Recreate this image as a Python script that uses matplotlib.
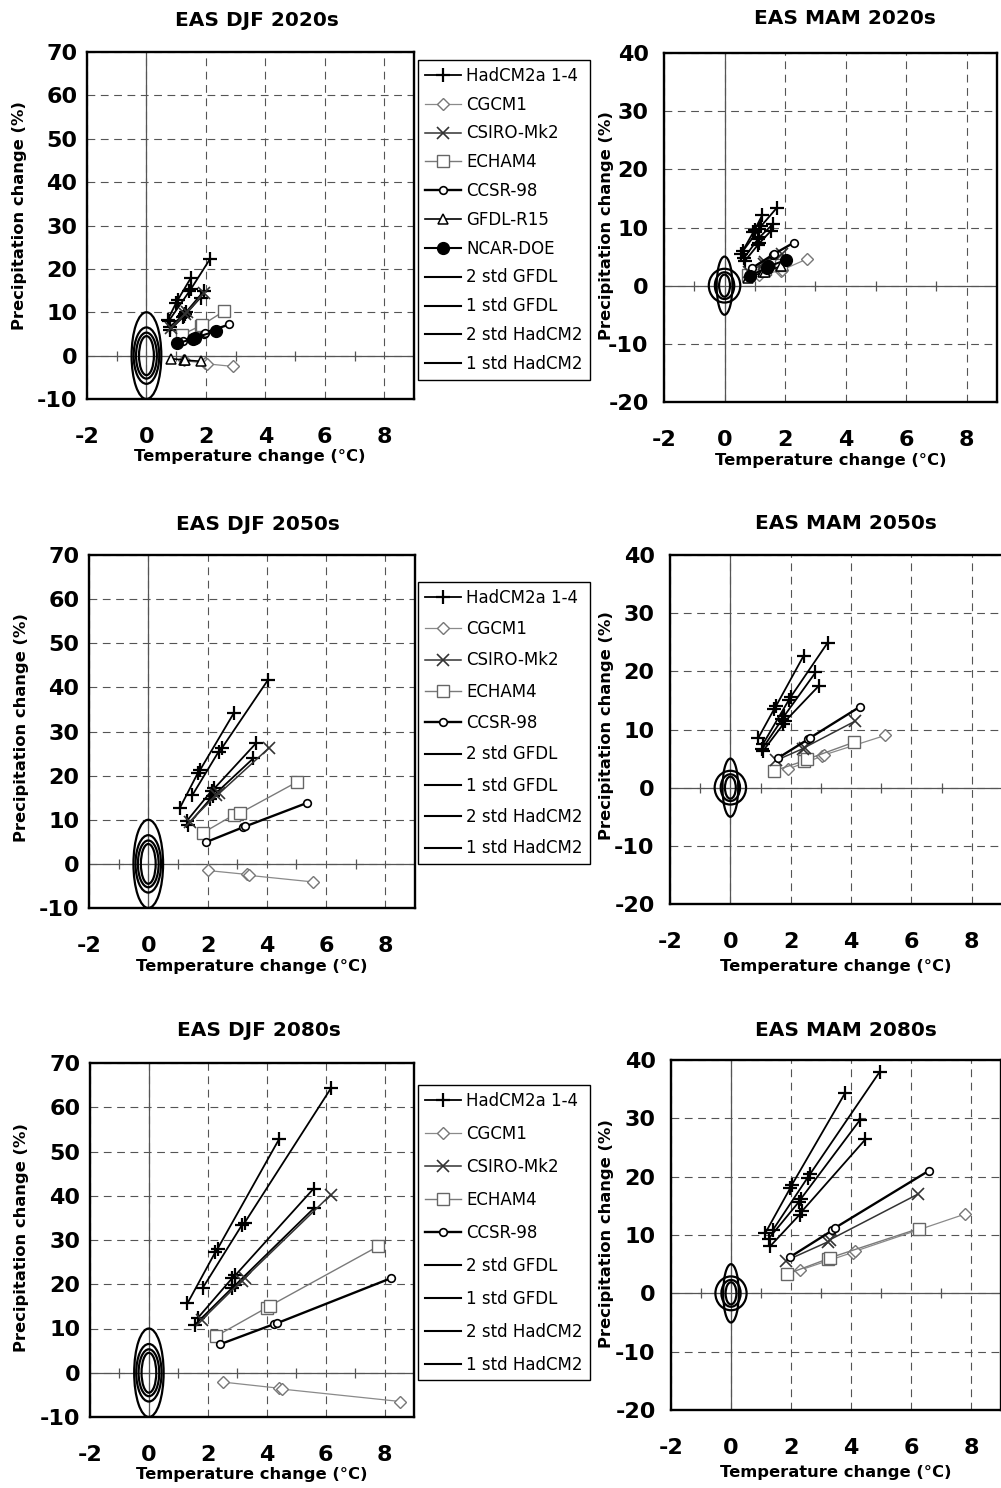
import matplotlib
matplotlib.use("Agg")
import matplotlib.pyplot as plt
from matplotlib.patches import Ellipse
from matplotlib.lines import Line2D

# ---------------- data ----------------
T_TICKS = [-2, 0, 2, 4, 6, 8]
T_TICK_LABELS = ["-2", "0", "2", "4", "6", "8"]
T_MINOR = [-1, 1, 3, 5, 7]
DJF_P_TICKS = [-10, 0, 10, 20, 30, 40, 50, 60, 70]
MAM_P_TICKS = [-20, -10, 0, 10, 20, 30, 40]

# natural-variability ellipses: half-width (degC), half-height (%)
ELL_NAMES = ["2 std GFDL", "1 std GFDL", "2 std HadCM2", "1 std HadCM2"]
DJF_ELL_T = [0.50, 0.35, 0.43, 0.25]
DJF_ELL_P = [10.0, 5.3, 6.5, 4.5]
MAM_ELL_T = [0.26, 0.18, 0.52, 0.32]
MAM_ELL_P = [5.0, 1.9, 2.9, 2.3]

# ---- EAS DJF 2020s ----
djf20_hadcm2_t = [[0.72, 1.00, 1.05, 1.50], [0.75, 1.44, 1.50, 2.14],
                  [0.78, 1.28, 1.33, 1.92], [0.80, 1.22, 1.27, 1.82]]
djf20_hadcm2_p = [[8.3, 12.2, 12.8, 18.0], [8.0, 14.8, 15.4, 22.3],
                  [6.6, 9.6, 10.0, 14.8], [6.0, 8.8, 9.2, 13.4]]
djf20_cgcm1_t = [1.25, 1.98, 2.05, 2.92]
djf20_cgcm1_p = [-1.1, -1.8, -1.9, -2.5]
djf20_csiro_t = [0.82, 1.30, 1.36, 1.95]
djf20_csiro_p = [6.3, 9.6, 10.0, 14.5]
djf20_echam4_t = [1.18, 1.83, 1.88, 2.60]
djf20_echam4_p = [4.8, 6.9, 7.1, 10.2]
djf20_ccsr_t = [1.23, 1.92, 1.97, 2.79]
djf20_ccsr_p = [3.4, 5.1, 5.3, 7.2]
djf20_gfdl_t = [0.83, 1.25, 1.30, 1.83]
djf20_gfdl_p = [-0.7, -1.0, -1.05, -1.3]
djf20_ncar_t = [1.02, 1.58, 1.63, 2.35]
djf20_ncar_p = [2.8, 3.9, 4.1, 5.7]

# ---- EAS MAM 2020s ----
mam20_hadcm2_t = [[0.55, 0.95, 1.00, 1.25], [0.60, 1.15, 1.20, 1.73],
                  [0.65, 1.10, 1.15, 1.60], [0.68, 1.10, 1.15, 1.53]]
mam20_hadcm2_p = [[5.5, 9.2, 9.6, 12.2], [5.9, 9.8, 10.2, 13.4],
                  [4.8, 8.0, 8.3, 10.6], [4.3, 7.0, 7.3, 9.4]]
mam20_cgcm1_t = [1.15, 1.85, 1.90, 2.73]
mam20_cgcm1_p = [1.8, 2.6, 2.7, 4.6]
mam20_csiro_t = [0.80, 1.30, 1.35, 1.90]
mam20_csiro_p = [2.4, 3.8, 4.0, 5.4]
mam20_echam4_t = [0.78, 1.30, 1.35, 1.85]
mam20_echam4_p = [1.8, 2.8, 2.9, 3.6]
mam20_ccsr_t = [0.90, 1.59, 1.65, 2.29]
mam20_ccsr_p = [3.0, 5.3, 5.5, 7.4]
mam20_gfdl_t = [0.78, 1.28, 1.33, 1.85]
mam20_gfdl_p = [1.4, 2.3, 2.4, 3.3]
mam20_ncar_t = [0.85, 1.40, 1.45, 2.02]
mam20_ncar_p = [1.7, 3.1, 3.3, 4.4]

# ---- EAS DJF 2050s ----
djf50_hadcm2_t = [[1.06, 1.68, 1.75, 2.88], [1.49, 2.37, 2.48, 4.03],
                  [1.31, 2.14, 2.23, 3.63], [1.34, 2.09, 2.17, 3.54]]
djf50_hadcm2_p = [[12.6, 20.7, 21.3, 34.1], [15.6, 25.4, 26.2, 41.6],
                  [9.8, 16.6, 17.1, 27.3], [8.9, 14.7, 15.3, 23.9]]
djf50_cgcm1_t = [2.00, 3.34, 3.39, 5.57]
djf50_cgcm1_p = [-1.5, -2.4, -2.6, -4.1]
djf50_csiro_t = [1.41, 2.29, 2.40, 4.06]
djf50_csiro_p = [9.6, 15.6, 16.0, 26.2]
djf50_echam4_t = [1.86, 2.89, 3.09, 5.03]
djf50_echam4_p = [7.1, 11.1, 11.5, 18.6]
djf50_ccsr_t = [1.94, 3.20, 3.28, 5.35]
djf50_ccsr_p = [4.9, 8.3, 8.5, 13.8]

# ---- EAS MAM 2050s ----
mam50_hadcm2_t = [[0.92, 1.46, 1.52, 2.43], [1.08, 1.94, 2.00, 3.22],
                  [1.06, 1.72, 1.78, 2.82], [1.08, 1.75, 1.81, 2.93]]
mam50_hadcm2_p = [[8.5, 13.6, 14.1, 22.7], [7.5, 15.1, 15.6, 24.9],
                  [6.7, 11.8, 12.3, 19.8], [6.3, 10.9, 11.4, 17.5]]
mam50_cgcm1_t = [1.91, 3.03, 3.09, 5.14]
mam50_cgcm1_p = [3.2, 5.4, 5.6, 9.0]
mam50_csiro_t = [1.52, 2.40, 2.46, 4.12]
mam50_csiro_p = [4.7, 6.7, 6.9, 11.4]
mam50_echam4_t = [1.45, 2.44, 2.55, 4.09]
mam50_echam4_p = [2.9, 4.6, 4.9, 7.8]
mam50_ccsr_t = [1.58, 2.57, 2.65, 4.29]
mam50_ccsr_p = [5.1, 8.3, 8.6, 13.9]

# ---- EAS DJF 2080s ----
djf80_hadcm2_t = [[1.31, 2.25, 2.33, 4.42], [1.83, 3.15, 3.25, 6.19],
                  [1.65, 2.83, 2.93, 5.59], [1.57, 2.83, 2.93, 5.62]]
djf80_hadcm2_p = [[15.7, 27.2, 28.0, 52.8], [19.2, 33.3, 33.9, 64.4],
                  [12.3, 21.4, 22.0, 41.6], [10.9, 19.2, 19.8, 37.3]]
djf80_cgcm1_t = [2.50, 4.43, 4.53, 8.54]
djf80_cgcm1_p = [-2.1, -3.5, -3.7, -6.5]
djf80_csiro_t = [1.79, 3.15, 3.25, 6.17]
djf80_csiro_p = [11.9, 20.8, 21.4, 40.2]
djf80_echam4_t = [2.29, 4.00, 4.10, 7.79]
djf80_echam4_p = [8.3, 14.7, 15.1, 28.6]
djf80_ccsr_t = [2.40, 4.25, 4.35, 8.23]
djf80_ccsr_p = [6.4, 11.0, 11.2, 21.4]

# ---- EAS MAM 2080s ----
mam80_hadcm2_t = [[1.14, 1.97, 2.03, 3.81], [1.40, 2.55, 2.63, 4.96],
                  [1.26, 2.25, 2.33, 4.31], [1.31, 2.29, 2.37, 4.48]]
mam80_hadcm2_p = [[10.3, 18.0, 18.6, 34.4], [10.9, 19.8, 20.4, 38.0],
                  [9.4, 15.6, 16.2, 29.8], [8.1, 13.5, 14.1, 26.4]]
mam80_cgcm1_t = [2.31, 4.05, 4.13, 7.81]
mam80_cgcm1_p = [4.0, 7.0, 7.2, 13.6]
mam80_csiro_t = [1.83, 3.22, 3.30, 6.23]
mam80_csiro_p = [5.6, 8.8, 9.2, 17.0]
mam80_echam4_t = [1.87, 3.22, 3.30, 6.26]
mam80_echam4_p = [3.3, 5.9, 6.1, 11.1]
mam80_ccsr_t = [1.96, 3.38, 3.46, 6.59]
mam80_ccsr_p = [6.2, 10.8, 11.2, 21.0]

# ---------------- styles ----------------
STYLE = {
    "HadCM2a 1-4": dict(color="black", lw=1.3, marker="+", ms=10, mew=1.6, mfc="black", mec="black"),
    "CGCM1": dict(color="#8a8a8a", lw=0.9, marker="D", ms=6, mew=1.0, mfc="white", mec="#777777"),
    "CSIRO-Mk2": dict(color="#333333", lw=1.1, marker="x", ms=8, mew=1.2, mfc="#333333", mec="#333333"),
    "ECHAM4": dict(color="#7a7a7a", lw=1.0, marker="s", ms=8, mew=1.0, mfc="white", mec="#666666"),
    "CCSR-98": dict(color="black", lw=1.7, marker="o", ms=5.5, mew=1.2, mfc="white", mec="black"),
    "GFDL-R15": dict(color="black", lw=1.2, marker="^", ms=7, mew=1.1, mfc="white", mec="black"),
    "NCAR-DOE": dict(color="black", lw=1.5, marker="o", ms=8.5, mew=1.0, mfc="black", mec="black"),
}
ELL_STYLE = dict(color="black", lw=1.5)

W, H = 1001, 1488
fig = plt.figure(figsize=(W / 100, H / 100), dpi=100)
plt.rcParams["font.family"] = ["DejaVu Sans"]
plt.rcParams["axes.unicode_minus"] = False


def fx(px):
    return px / W


def fy(py):
    return 1 - py / H


def make_ax(l, t, r, b):
    return fig.add_axes([l / W, 1 - b / H, (r - l) / W, (b - t) / H])


def draw(ax, models, ylim, yticks, ell_t, ell_p, ypad):
    ax.set_xlim(-2, 9)
    ax.set_ylim(*ylim)
    ax.set_xticks(T_TICKS)
    ax.set_xticklabels(T_TICK_LABELS)
    ax.set_yticks(yticks)
    ax.set_yticklabels([str(v) for v in yticks])
    ax.tick_params(length=0, labelsize=16)
    ax.tick_params(axis="x", pad=20)
    ax.tick_params(axis="y", pad=ypad)
    for lab in ax.get_xticklabels() + ax.get_yticklabels():
        lab.set_fontweight("bold")
    ax.grid(True, color="#555555", lw=0.8, ls=(0, (7, 5)))
    ax.axhline(0, color="#555555", lw=0.9, zorder=1.5)
    ax.axvline(0, color="#555555", lw=0.9, zorder=1.5)
    ax.plot(T_MINOR, [0] * len(T_MINOR), ls="none", marker="|", ms=7, mew=0.9,
            color="#555555", zorder=1.5)
    for w, h in zip(ell_t, ell_p):
        ax.add_patch(Ellipse((0, 0), 2 * w, 2 * h, fill=False, ec="black", lw=1.6, zorder=2))
    for name, t, p in models:
        st = STYLE[name]
        if isinstance(t[0], list):
            for tt, pp in zip(t, p):
                ax.plot(tt, pp, zorder=3, **st)
        else:
            ax.plot(t, p, zorder=3, **st)
    for s in ax.spines.values():
        s.set_linewidth(1.7)
        s.set_color("black")


def legend(names, left, top, spacing):
    handles = [Line2D([], [], **STYLE[n]) for n in names]
    handles += [Line2D([], [], **ELL_STYLE) for _ in ELL_NAMES]
    labels = list(names) + ELL_NAMES
    lg = fig.legend(handles, labels, loc="upper left",
                    bbox_to_anchor=(fx(left), fy(top)), bbox_transform=fig.transFigure,
                    fontsize=12, frameon=True, fancybox=False, edgecolor="black",
                    framealpha=1, borderaxespad=0, borderpad=0.4,
                    handlelength=2.2, handletextpad=0.3, labelspacing=spacing,
                    numpoints=1)
    lg.get_frame().set_linewidth(1.0)


def texts(title, tx, ty, xlx, xly, ylx, yly):
    fig.text(fx(tx), fy(ty), title, ha="center", va="center", fontsize=14.5, fontweight="bold")
    fig.text(fx(xlx), fy(xly), "Temperature change (°C)", ha="center", va="center",
             fontsize=11.8, fontweight="bold")
    fig.text(fx(ylx), fy(yly), "Precipitation change (%)", ha="center", va="center",
             fontsize=11.8, fontweight="bold", rotation=90)


# ---- panel DJF 2020s ----
ax = make_ax(87, 52, 414, 399)
draw(ax, [("HadCM2a 1-4", djf20_hadcm2_t, djf20_hadcm2_p),
          ("CGCM1", djf20_cgcm1_t, djf20_cgcm1_p),
          ("ECHAM4", djf20_echam4_t, djf20_echam4_p),
          ("GFDL-R15", djf20_gfdl_t, djf20_gfdl_p),
          ("CSIRO-Mk2", djf20_csiro_t, djf20_csiro_p),
          ("CCSR-98", djf20_ccsr_t, djf20_ccsr_p),
          ("NCAR-DOE", djf20_ncar_t, djf20_ncar_p)],
     (-10, 70), DJF_P_TICKS, DJF_ELL_T, DJF_ELL_P, 7)
legend(["HadCM2a 1-4", "CGCM1", "CSIRO-Mk2", "ECHAM4", "CCSR-98", "GFDL-R15", "NCAR-DOE"],
       418, 60, 0.65)
texts("EAS DJF 2020s", 257, 20, 250, 456, 20, 216)

# ---- panel MAM 2020s ----
ax = make_ax(664, 53, 997, 402)
draw(ax, [("HadCM2a 1-4", mam20_hadcm2_t, mam20_hadcm2_p),
          ("CGCM1", mam20_cgcm1_t, mam20_cgcm1_p),
          ("ECHAM4", mam20_echam4_t, mam20_echam4_p),
          ("GFDL-R15", mam20_gfdl_t, mam20_gfdl_p),
          ("CSIRO-Mk2", mam20_csiro_t, mam20_csiro_p),
          ("CCSR-98", mam20_ccsr_t, mam20_ccsr_p),
          ("NCAR-DOE", mam20_ncar_t, mam20_ncar_p)],
     (-20, 40), MAM_P_TICKS, MAM_ELL_T, MAM_ELL_P, 11)
texts("EAS MAM 2020s", 845, 18, 831, 460, 607, 226)

# ---- panel DJF 2050s ----
ax = make_ax(89, 555, 415, 908)
draw(ax, [("HadCM2a 1-4", djf50_hadcm2_t, djf50_hadcm2_p),
          ("CGCM1", djf50_cgcm1_t, djf50_cgcm1_p),
          ("ECHAM4", djf50_echam4_t, djf50_echam4_p),
          ("CSIRO-Mk2", djf50_csiro_t, djf50_csiro_p),
          ("CCSR-98", djf50_ccsr_t, djf50_ccsr_p)],
     (-10, 70), DJF_P_TICKS, DJF_ELL_T, DJF_ELL_P, 7)
legend(["HadCM2a 1-4", "CGCM1", "CSIRO-Mk2", "ECHAM4", "CCSR-98"], 418, 582, 0.80)
texts("EAS DJF 2050s", 258, 524, 252, 967, 22, 728)

# ---- panel MAM 2050s ----
ax = make_ax(670, 555, 1002, 904)
draw(ax, [("HadCM2a 1-4", mam50_hadcm2_t, mam50_hadcm2_p),
          ("CGCM1", mam50_cgcm1_t, mam50_cgcm1_p),
          ("ECHAM4", mam50_echam4_t, mam50_echam4_p),
          ("CSIRO-Mk2", mam50_csiro_t, mam50_csiro_p),
          ("CCSR-98", mam50_ccsr_t, mam50_ccsr_p)],
     (-20, 40), MAM_P_TICKS, MAM_ELL_T, MAM_ELL_P, 11)
texts("EAS MAM 2050s", 846, 523, 836, 967, 607, 726)

# ---- panel DJF 2080s ----
ax = make_ax(90, 1063, 414, 1417)
draw(ax, [("HadCM2a 1-4", djf80_hadcm2_t, djf80_hadcm2_p),
          ("CGCM1", djf80_cgcm1_t, djf80_cgcm1_p),
          ("ECHAM4", djf80_echam4_t, djf80_echam4_p),
          ("CSIRO-Mk2", djf80_csiro_t, djf80_csiro_p),
          ("CCSR-98", djf80_ccsr_t, djf80_ccsr_p)],
     (-10, 70), DJF_P_TICKS, DJF_ELL_T, DJF_ELL_P, 7)
legend(["HadCM2a 1-4", "CGCM1", "CSIRO-Mk2", "ECHAM4", "CCSR-98"], 418, 1085, 0.90)
texts("EAS DJF 2080s", 259, 1031, 252, 1475, 22, 1238)

# ---- panel MAM 2080s ----
ax = make_ax(671, 1060, 1001, 1410)
draw(ax, [("HadCM2a 1-4", mam80_hadcm2_t, mam80_hadcm2_p),
          ("CGCM1", mam80_cgcm1_t, mam80_cgcm1_p),
          ("ECHAM4", mam80_echam4_t, mam80_echam4_p),
          ("CSIRO-Mk2", mam80_csiro_t, mam80_csiro_p),
          ("CCSR-98", mam80_ccsr_t, mam80_ccsr_p)],
     (-20, 40), MAM_P_TICKS, MAM_ELL_T, MAM_ELL_P, 11)
texts("EAS MAM 2080s", 846, 1030, 836, 1473, 607, 1234)

fig.savefig("out.png", dpi=100)
